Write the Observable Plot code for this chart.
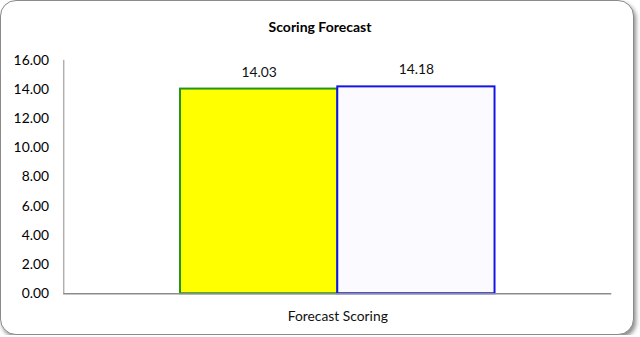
<!DOCTYPE html>
<html>
<head>
<meta charset="utf-8">
<script src="https://cdn.jsdelivr.net/npm/d3@7"></script>
<script src="https://cdn.jsdelivr.net/npm/@observablehq/plot@0.6"></script>
<style>
  html, body { margin: 0; padding: 0; background: #ffffff; }
  #card {
    position: relative;
    box-sizing: border-box;
    width: 634px;
    height: 335px;
    margin: 0;
    border: 1px solid #8a8a8a;
    border-radius: 16px;
    box-shadow: 2px 3px 4px rgba(0,0,0,0.45);
    background: #ffffff;
    font-family: Lato, "Open Sans", sans-serif;
  }
  #title {
    position: absolute;
    left: 0; top: 17px; width: 638px;
    text-align: center;
    font-weight: bold;
    font-size: 14px;
    color: #000;
  }
  #chart { position: absolute; left: -1px; top: 43px; }
</style>
</head>
<body>
<div id="card">
  <div id="title">Scoring Forecast</div>
  <div id="chart"></div>
</div>
<script>
// Forecast scoring values, one bar per series
const category = "Forecast Scoring";
const series = ["Series 1", "Series 2"];
const values = [14.03, 14.18];
const yTicks = [0, 2, 4, 6, 8, 10, 12, 14, 16];

const fills = ["#ffff00", "#fbfbff"];
const strokes = ["#1f951f", "#1414e6"];

const rows = series.map((s, i) => ({series: s, value: values[i], category}));

const plot = Plot.plot({
  width: 640,
  height: 292,
  marginLeft: 64,
  marginRight: 22,
  marginTop: 16,
  marginBottom: 40,
  style: {fontFamily: "Lato, 'Open Sans', sans-serif", fontSize: "13px", color: "#000", background: "transparent"},
  x: {domain: series, paddingInner: 0, paddingOuter: 0.736, axis: null},
  y: {domain: [0, 16], ticks: yTicks, label: null},
  color: {domain: series, range: fills},
  marks: [
    Plot.barY(rows, {
      x: "series", y: "value",
      fill: "series",
      stroke: (d, i) => strokes[i],
      strokeWidth: 2
    }),
    Plot.text(rows, {
      x: "series", y: "value",
      text: d => d.value.toFixed(2),
      dy: -17, fontSize: 14, fill: "#111"
    }),
    Plot.axisY({ticks: yTicks, tickFormat: d => d.toFixed(2), tickSize: 0, tickPadding: 15, fontSize: 14, label: null}),
    Plot.frame({anchor: "left", stroke: "#8c8c8c"}),
    Plot.ruleY([0], {stroke: "#8c8c8c", strokeWidth: 1.5}),
    Plot.text([category], {
      frameAnchor: "bottom", dy: 28, fontSize: 14, fill: "#111"
    })
  ]
});
document.getElementById("chart").appendChild(plot);
</script>
</body>
</html>
